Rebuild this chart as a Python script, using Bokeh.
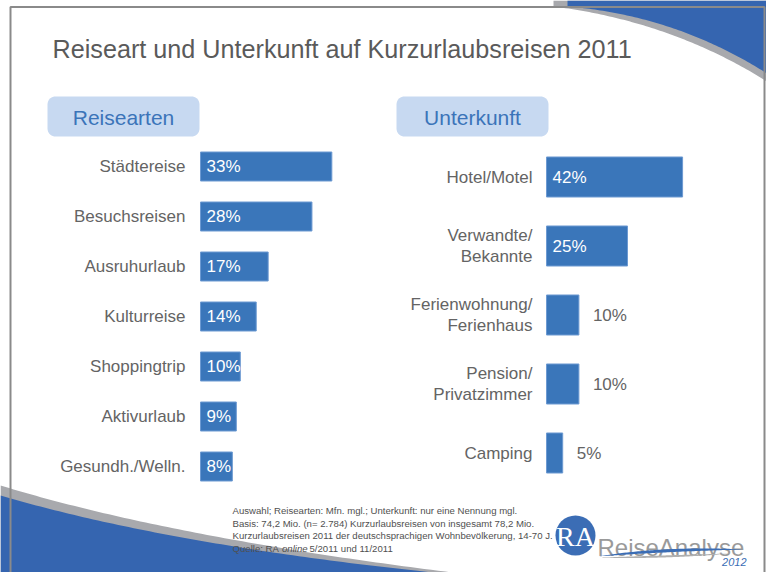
import numpy as np
from bokeh.plotting import figure
from bokeh.models import Range1d
from bokeh.core.properties import value
from bokeh.embed import file_html
from bokeh.resources import INLINE

# ---------------- data ----------------
title_text = "Reiseart und Unterkunft auf Kurzurlaubsreisen 2011"
reise_header = "Reisearten"
reise_cats = ["Städtereise", "Besuchsreisen", "Ausruhurlaub", "Kulturreise",
              "Shoppingtrip", "Aktivurlaub", "Gesundh./Welln."]
reise_vals = [33, 28, 17, 14, 10, 9, 8]
unter_header = "Unterkunft"
unter_cats = ["Hotel/Motel", "Verwandte/\nBekannte", "Ferienwohnung/\nFerienhaus",
              "Pension/\nPrivatzimmer", "Camping"]
unter_vals = [42, 25, 10, 10, 5]
footnote_lines = [
    "Auswahl; Reisearten: Mfn. mgl.; Unterkunft: nur eine Nennung mgl.",
    "Basis: 74,2 Mio. (n= 2.784) Kurzurlaubsreisen von insgesamt 78,2 Mio.",
    "Kurzurlaubsreisen 2011 der deutschsprachigen Wohnbevölkerung, 14-70 J.",
]
source_parts = ["Quelle: RA", "online", "5/2011 und 11/2011"]
logo_text = "ReiseAnalyse"
logo_year = "2012"

# ---------------- layout (page pixel coordinates) ----------------
W, H = 766, 572
PX0, PX1, PY0, PY1 = 0, W, 0, H
FONT = "Liberation Sans"
BAR = "#3a76ba"
BAR_EDGE = "#6d9ad2"
SWOOSH = "#3565b0"
LABEL = "#646464"


def lin_range(origin_px, px_per_unit, lo_px, hi_px):
    return Range1d(start=(lo_px - origin_px) / px_per_unit,
                   end=(hi_px - origin_px) / px_per_unit)


p = figure(width=W, height=H, x_range=Range1d(PX0, PX1), y_range=Range1d(PY1, PY0),
           output_backend="svg", toolbar_location=None,
           x_axis_location=None, y_axis_location=None, min_border=0)
p.grid.visible = False
p.outline_line_color = None
p.background_fill_color = "white"
p.border_fill_color = "white"

# chart scales
p.extra_x_ranges = {
    "lx": lin_range(200, 3.98, PX0, PX1),
    "rx": lin_range(546, 3.24, PX0, PX1),
}
p.extra_y_ranges = {
    "ly": lin_range(166, 50, PY1, PY0),
    "ry": lin_range(176.5, 69, PY1, PY0),
}


def qbez(p0, p1, p2, n=80):
    t = np.linspace(0, 1, n)[:, None]
    pts = (1 - t) ** 2 * np.array(p0) + 2 * (1 - t) * t * np.array(p1) + t ** 2 * np.array(p2)
    return list(pts[:, 0]), list(pts[:, 1])


# ---------------- decorations ----------------
# top-right swoosh
gx, gy = qbez((553, 6), (672, 21), (768, 82))
p.patch(gx + [780, 553], gy + [0, 0], fill_color="#a8a9ad", line_color=None)
bx, by = qbez((567, 6), (676, 15), (768, 74))
p.patch(bx + [780, 567], by + [0, 0], fill_color=SWOOSH, line_color=None)

# bottom-left swoosh
gx, gy = qbez((0, 485), (170, 537), (452, 572))
p.patch(gx + [452, 0], gy + [600, 600], fill_color="#a8a9ad", line_color=None)
bx, by = qbez((0, 495), (170, 545), (442, 573))
p.patch(bx + [442, 0], by + [600, 600], fill_color=SWOOSH, line_color=None)

# slide frame (left, top, right)
p.line([10, 10, 764, 764], [600, 6.5, 6.5, 600], line_color="#8a8a8a", line_width=2)


def rounded_rect(x0, y0, x1, y1, r, n=10):
    xs, ys = [], []
    corners = [(x1 - r, y0 + r, -90, 0), (x1 - r, y1 - r, 0, 90),
               (x0 + r, y1 - r, 90, 180), (x0 + r, y0 + r, 180, 270)]
    for cx, cy, a0, a1 in corners:
        a = np.radians(np.linspace(a0, a1, n))
        xs += list(cx + r * np.cos(a))
        ys += list(cy + r * np.sin(a))
    return xs, ys


# title
p.text(x=[52], y=[48.5], text=[title_text], text_font=value(FONT), text_font_size="25.2px",
       text_color="#5a5a5a", text_baseline="middle", text_align="left")

# header boxes
for (x0, x1), label in [((47, 199), reise_header), ((396, 548), unter_header)]:
    rx, ry = rounded_rect(x0, 96, x1, 136, 8)
    p.patch(rx, ry, fill_color="#c7d9f1", line_color=None)
    p.text(x=[(x0 + x1) / 2], y=[117], text=[label], text_font=value(FONT),
           text_font_size="21px", text_color="#3b74b9", text_align="center",
           text_baseline="middle")

# ---------------- left chart: Reisearten ----------------
ly = list(range(len(reise_vals)))
p.hbar(y=ly, left=0, right=reise_vals, height=0.58, fill_color=BAR, line_color=BAR_EDGE,
       line_width=1, x_range_name="lx", y_range_name="ly")
p.text(x=[0] * len(ly), y=ly, text=reise_cats, x_offset=-15, text_align="right",
       text_baseline="middle", text_font=value(FONT), text_font_size="17px",
       text_color=LABEL, x_range_name="lx", y_range_name="ly")
p.text(x=[0] * len(ly), y=ly, text=[f"{v}%" for v in reise_vals], x_offset=6,
       text_align="left", text_baseline="middle", text_font=value(FONT),
       text_font_size="17px", text_color="white", x_range_name="lx", y_range_name="ly")

# ---------------- right chart: Unterkunft ----------------
ry_ = list(range(len(unter_vals)))
p.hbar(y=ry_, left=0, right=unter_vals, height=0.58, fill_color=BAR, line_color=BAR_EDGE,
       line_width=1, x_range_name="rx", y_range_name="ry")
p.text(x=[0] * len(ry_), y=ry_, text=unter_cats, x_offset=-14, text_align="right",
       text_baseline="middle", text_font=value(FONT), text_font_size="17px",
       text_color=LABEL, text_line_height=1.1, x_range_name="rx", y_range_name="ry")
inside = [i for i, v in enumerate(unter_vals) if v >= 20]
outside = [i for i, v in enumerate(unter_vals) if v < 20]
p.text(x=[0] * len(inside), y=inside, text=[f"{unter_vals[i]}%" for i in inside], x_offset=6,
       text_align="left", text_baseline="middle", text_font=value(FONT),
       text_font_size="17px", text_color="white", x_range_name="rx", y_range_name="ry")
p.text(x=[unter_vals[i] for i in outside], y=outside,
       text=[f"{unter_vals[i]}%" for i in outside], x_offset=14,
       text_align="left", text_baseline="middle", text_font=value(FONT),
       text_font_size="17px", text_color=LABEL, x_range_name="rx", y_range_name="ry")

# ---------------- footnote ----------------
FN_SIZE = 9.6
fy = [510, 522.5, 535]
p.text(x=[232] * 3, y=fy, text=footnote_lines, text_font=value(FONT),
       text_font_size=f"{FN_SIZE}px", text_color="#505050", text_baseline="middle")
sx = [232, 281.5, 309]
styles = ["normal", "italic", "normal"]
for x, t, s in zip(sx, source_parts, styles):
    p.text(x=[x], y=[547.5], text=[t], text_font=value(FONT), text_font_size=f"{FN_SIZE}px",
           text_font_style=s, text_color="#505050", text_baseline="middle")

# ---------------- logo ----------------
p.ellipse(x=[575], y=[535], width=40, height=40, fill_color="#3b6db5", line_color=None)
p.text(x=[575], y=[536], text=["RA"], text_font=value("Liberation Serif"),
       text_font_size="28px", text_color="white", text_align="center",
       text_baseline="middle")
p.text(x=[597], y=[547], text=[logo_text], text_font=value(FONT),
       text_font_size="24px", text_color="#9a9a9a", text_align="left",
       text_baseline="alphabetic")
gx1, gy1 = qbez((598, 557), (660, 559), (730, 553))
gx2, gy2 = qbez((730, 553), (660, 555), (598, 557))
p.patch(gx1 + gx2, gy1 + gy2, fill_color="#b0b0b0", line_color=None)
bx1, by1 = qbez((597, 556), (665, 545), (744, 549))
bx2, by2 = qbez((744, 549), (665, 551), (597, 556))
p.patch(bx1 + bx2, by1 + by2, fill_color="#3b6db5", line_color=None)
p.text(x=[746], y=[561], text=[logo_year], text_font=value(FONT), text_font_size="11px",
       text_font_style="italic", text_color="#3b6db5", text_align="right",
       text_baseline="middle")

open("out.html", "w").write(file_html(p, INLINE))
